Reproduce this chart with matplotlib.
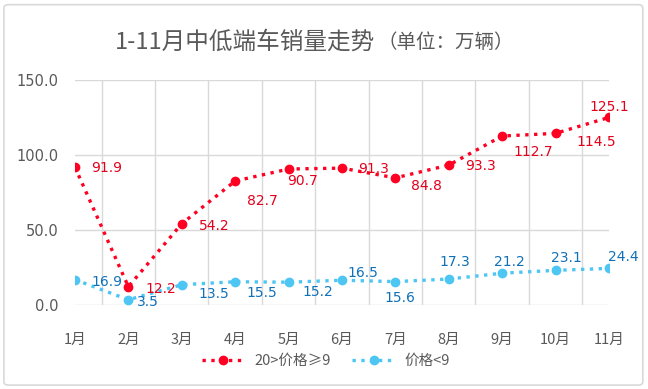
import matplotlib
matplotlib.use("Agg")
import matplotlib.pyplot as plt
from matplotlib.patches import FancyBboxPatch
import numpy as np

plt.rcParams['font.family'] = ['Noto Sans CJK SC', 'DejaVu Sans']

# 数据
months = ['1月', '2月', '3月', '4月', '5月', '6月', '7月', '8月', '9月', '10月', '11月']
mid_sales = [91.9, 12.2, 54.2, 82.7, 90.7, 91.3, 84.8, 93.3, 112.7, 114.5, 125.1]
low_sales = [16.9, 3.5, 13.5, 15.5, 15.2, 16.5, 15.6, 17.3, 21.2, 23.1, 24.4]
mid_label = '20>价格≥9'
low_label = '价格<9'

# 标签偏移（像素）
mid_off = [(32, -1), (32, -2), (32, -2), (27, -20), (14, -12), (32, -1), (31, -8), (32, -1), (31, -16), (41, -9), (0, 10)]
low_off = [(32, -2), (20, -2), (32, -9), (27, -11), (29, -10), (21, 7), (5, -16), (6, 17), (7, 11), (11, 12), (14, 11)]

red = '#FF0022'
red_txt = '#E3001B'
blue = '#4DC6F4'
blue_txt = '#1070B8'
gray = '#595959'
num_font = ['DejaVu Sans', 'Noto Sans CJK SC']

fig = plt.figure(figsize=(6.48, 3.89), dpi=100)
fig.patches.append(FancyBboxPatch((0.006, 0.01), 0.986, 0.978, boxstyle='round,pad=0,rounding_size=0.008',
                                  transform=fig.transFigure, fill=False, edgecolor='#D9D9D9', linewidth=1.2))
ax = fig.add_axes([0.1157, 0.216, 0.824, 0.578])

x = np.arange(len(months))
ax.plot(x, mid_sales, linestyle=':', linewidth=2.4, color=red, marker='o', markersize=6, label=mid_label, zorder=3)
ax.plot(x, low_sales, linestyle=':', linewidth=2.4, color=blue, marker='o', markersize=6, label=low_label, zorder=3)

for i in range(len(x)):
    ax.annotate('%.1f' % mid_sales[i], (x[i], mid_sales[i]), xytext=mid_off[i], textcoords='offset pixels',
                ha='center', va='center', color=red_txt, fontsize=10, family=num_font, zorder=4)
    ax.annotate('%.1f' % low_sales[i], (x[i], low_sales[i]), xytext=low_off[i], textcoords='offset pixels',
                ha='center', va='center', color=blue_txt, fontsize=10, family=num_font, zorder=4)

ax.set_xlim(0, 10)
ax.set_ylim(0, 150)
ax.set_yticks([0, 50, 100, 150])
ax.set_yticklabels(['0.0', '50.0', '100.0', '150.0'], family=num_font)
ax.set_xticks(x)
ax.set_xticklabels(months)
ax.set_xticks(np.arange(0, 10.5, 0.5), minor=True)
ax.grid(True, which='minor', axis='x', color='#D9D9D9', linewidth=1)
ax.grid(True, which='major', axis='y', color='#D9D9D9', linewidth=1)
ax.tick_params(axis='both', which='both', length=0, colors=gray, labelsize=10.5)
ax.tick_params(axis='x', pad=20)
ax.tick_params(axis='y', pad=12)
for s in ax.spines.values():
    s.set_visible(False)

t1 = fig.text(115 / 648, 1 - 42 / 389, '1-11月中低端车销量走势', fontsize=17, color=gray, ha='left', va='center')
fig.canvas.draw()
bb = t1.get_window_extent()
fig.text((bb.x1 + 2) / 648, 1 - 43 / 389, '（单位：万辆）', fontsize=14, color=gray, ha='left', va='center')

leg = ax.legend(loc='center', bbox_to_anchor=(0.47, -0.25), ncol=2, frameon=False, fontsize=10.5,
                handlelength=3, columnspacing=1.5, handletextpad=0.6)
for t in leg.get_texts():
    t.set_color(gray)

fig.savefig('out.png', dpi=100)
